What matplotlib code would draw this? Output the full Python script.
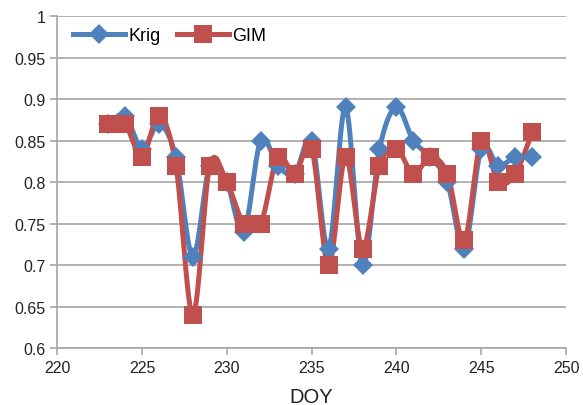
import numpy as np
import matplotlib
matplotlib.use("Agg")
import matplotlib.pyplot as plt

plt.rcParams['font.family'] = ['Liberation Sans', 'DejaVu Sans']

doy = [223, 224, 225, 226, 227, 228, 229, 230, 231, 232, 233, 234, 235,
       236, 237, 238, 239, 240, 241, 242, 243, 244, 245, 246, 247, 248]
krig = [0.87, 0.88, 0.84, 0.87, 0.83, 0.71, 0.82, 0.80, 0.74, 0.85, 0.82, 0.81, 0.85,
        0.72, 0.89, 0.70, 0.84, 0.89, 0.85, 0.83, 0.80, 0.72, 0.84, 0.82, 0.83, 0.83]
gim = [0.87, 0.87, 0.83, 0.88, 0.82, 0.64, 0.82, 0.80, 0.75, 0.75, 0.83, 0.81, 0.84,
       0.70, 0.83, 0.72, 0.82, 0.84, 0.81, 0.83, 0.81, 0.73, 0.85, 0.80, 0.81, 0.86]

x_ticks = [220, 225, 230, 235, 240, 245, 250]
y_ticks = [0.6, 0.65, 0.7, 0.75, 0.8, 0.85, 0.9, 0.95, 1.0]
y_labels = ['0.6', '0.65', '0.7', '0.75', '0.8', '0.85', '0.9', '0.95', '1']

BLUE = '#4F81BD'
RED = '#C0504D'


def smooth_path(xs, ys, n=30):
    """Cubic Bezier smoothing through the points (Catmull-Rom style)."""
    xs = np.asarray(xs, float)
    ys = np.asarray(ys, float)
    px, py = [], []
    m = len(xs)
    for i in range(m - 1):
        i0 = max(i - 1, 0)
        i3 = min(i + 2, m - 1)
        p0 = np.array([xs[i], ys[i]])
        p3 = np.array([xs[i + 1], ys[i + 1]])
        c1 = p0 + (p3 - np.array([xs[i0], ys[i0]])) / 6.0
        c2 = p3 - (np.array([xs[i3], ys[i3]]) - p0) / 6.0
        t = np.linspace(0, 1, n)[:, None]
        pts = ((1 - t) ** 3) * p0 + 3 * ((1 - t) ** 2) * t * c1 + 3 * (1 - t) * t ** 2 * c2 + t ** 3 * p3
        if i > 0:
            pts = pts[1:]
        px.extend(pts[:, 0])
        py.extend(pts[:, 1])
    return np.array(px), np.array(py)


fig = plt.figure(figsize=(5.83, 4.06), dpi=100)
ax = fig.add_axes([0.098, 0.140, 0.873, 0.818])

for vals, color, marker, ms, label in [
        (krig, BLUE, 'D', 10.5, 'Krig'),
        (gim, RED, 's', 13, 'GIM')]:
    sx, sy = smooth_path(doy, vals)
    ax.plot(sx, sy, color=color, lw=3.6, solid_capstyle='round', zorder=3)
    ax.plot(doy, vals, linestyle='none', marker=marker, ms=ms, color=color,
            markeredgewidth=0, zorder=4)
    ax.plot([], [], color=color, lw=3.6, marker=marker, ms=ms,
            markeredgewidth=0, label=label)

ax.set_xlim(220, 250)
ax.set_ylim(0.6, 1.0)
ax.set_xticks(x_ticks)
ax.set_yticks(y_ticks)
ax.set_yticklabels(y_labels)
ax.grid(axis='y', color='#A6A6A6', lw=1.2)
ax.set_axisbelow(True)

for s in ['top', 'right']:
    ax.spines[s].set_visible(False)
for s in ['left', 'bottom']:
    ax.spines[s].set_color('#A6A6A6')
    ax.spines[s].set_linewidth(1.2)
ax.tick_params(axis='both', colors='#A6A6A6', length=5, width=1.2,
               labelcolor='#222222', labelsize=11.5)
ax.set_xlabel('DOY', fontsize=14.5, color='#222222', labelpad=9)

leg = ax.legend(loc='upper left', frameon=False, ncol=2, fontsize=13,
                handlelength=2.9, columnspacing=0.9, handletextpad=0.15,
                bbox_to_anchor=(0.01, 1.0), borderaxespad=0.2)

fig.savefig('out.png', dpi=100)
